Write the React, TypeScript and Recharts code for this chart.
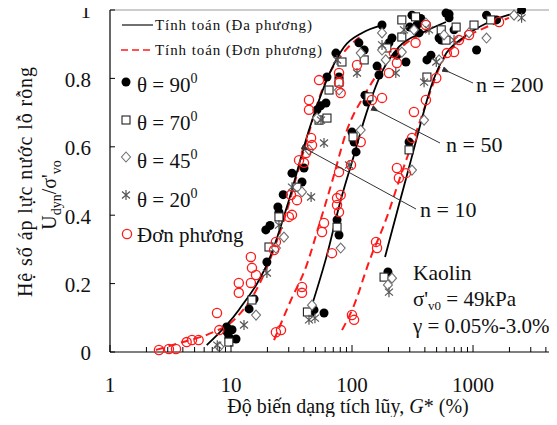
import React from 'react'
import { ComposedChart, XAxis, YAxis, Scatter, Line, ReferenceLine } from 'recharts'

// measured points, x = G* (%), y = Udyn / σ'vo
const theta90 = [
  { x: 9.2, y: 0.073 }, { x: 9.3, y: 0.058 }, { x: 9.6, y: 0.044 }, { x: 11.0, y: 0.038 }, { x: 10.2, y: 0.065 },
  { x: 14.1, y: 0.126 }, { x: 15.5, y: 0.155 }, { x: 19.8, y: 0.263 }, { x: 19.4, y: 0.357 }, { x: 21.0, y: 0.37 },
  { x: 24.4, y: 0.424 }, { x: 24.9, y: 0.409 }, { x: 27.0, y: 0.46 }, { x: 31.9, y: 0.523 }, { x: 38.6, y: 0.497 },
  { x: 40.1, y: 0.538 }, { x: 51.4, y: 0.708 }, { x: 55.0, y: 0.72 }, { x: 60.9, y: 0.728 }, { x: 62.1, y: 0.804 },
  { x: 73.6, y: 0.874 }, { x: 78.1, y: 0.804 }, { x: 114, y: 0.904 }, { x: 126, y: 0.883 }, { x: 177, y: 0.956 },
  { x: 45.9, y: 0.117 }, { x: 48.5, y: 0.123 }, { x: 58.7, y: 0.114 }, { x: 75.2, y: 0.386 }, { x: 78.1, y: 0.342 },
  { x: 99.9, y: 0.643 }, { x: 104, y: 0.614 }, { x: 108, y: 0.585 }, { x: 128, y: 0.751 }, { x: 133, y: 0.731 },
  { x: 167, y: 0.81 }, { x: 161, y: 0.836 }, { x: 202, y: 0.904 }, { x: 214, y: 0.918 }, { x: 235, y: 0.868 },
  { x: 279, y: 0.848 }, { x: 300, y: 0.95 }, { x: 313, y: 0.985 }, { x: 344, y: 0.956 }, { x: 358, y: 0.933 },
  { x: 370, y: 0.975 }, { x: 524, y: 0.918 }, { x: 634, y: 0.988 }, { x: 697, y: 0.942 },
  { x: 198, y: 0.234 }, { x: 296, y: 0.614 }, { x: 416, y: 0.854 }, { x: 449, y: 0.868 }, { x: 546, y: 0.912 },
  { x: 598, y: 0.991 }, { x: 634, y: 0.977 }, { x: 1070, y: 0.883 }, { x: 1293, y: 0.985 }, { x: 1563, y: 0.971 },
  { x: 2520, y: 1.0 },
]

const theta70 = [
  { x: 9.6, y: 0.029 }, { x: 14.9, y: 0.152 }, { x: 20.6, y: 0.307 }, { x: 24.9, y: 0.395 }, { x: 35.1, y: 0.482 },
  { x: 53.4, y: 0.678 }, { x: 62.1, y: 0.684 }, { x: 64.6, y: 0.766 }, { x: 78.1, y: 0.789 }, { x: 82.6, y: 0.848 },
  { x: 126, y: 0.854 },
  { x: 42.8, y: 0.117 }, { x: 75.2, y: 0.365 }, { x: 102, y: 0.629 }, { x: 138, y: 0.746 }, { x: 194, y: 0.889 },
  { x: 258, y: 0.921 }, { x: 258, y: 0.971 }, { x: 335, y: 0.98 }, { x: 546, y: 0.942 },
  { x: 184, y: 0.219 }, { x: 296, y: 0.591 }, { x: 416, y: 0.804 }, { x: 598, y: 0.912 }, { x: 725, y: 0.95 },
  { x: 1019, y: 0.956 }, { x: 1400, y: 0.971 },
]

const theta45 = [
  { x: 8.0, y: 0.015 }, { x: 16.1, y: 0.108 }, { x: 23.5, y: 0.304 }, { x: 27.4, y: 0.336 }, { x: 38.6, y: 0.468 },
  { x: 44.1, y: 0.591 }, { x: 51.4, y: 0.684 }, { x: 78.1, y: 0.766 }, { x: 118, y: 0.874 }, { x: 177, y: 0.933 },
  { x: 46.7, y: 0.137 }, { x: 80.6, y: 0.304 }, { x: 118, y: 0.649 }, { x: 177, y: 0.883 }, { x: 190, y: 0.854 },
  { x: 258, y: 0.877 }, { x: 325, y: 0.942 }, { x: 408, y: 0.962 }, { x: 576, y: 0.927 },
  { x: 198, y: 0.196 }, { x: 214, y: 0.216 }, { x: 313, y: 0.532 }, { x: 394, y: 0.678 }, { x: 524, y: 0.854 },
  { x: 927, y: 0.933 }, { x: 1293, y: 0.918 }, { x: 2183, y: 0.985 },
]

const theta20 = [
  { x: 7.7, y: 0.02 }, { x: 12.8, y: 0.079 }, { x: 19.8, y: 0.231 }, { x: 24.9, y: 0.371 }, { x: 31.9, y: 0.482 },
  { x: 45.9, y: 0.453 }, { x: 58.7, y: 0.611 }, { x: 55.4, y: 0.678 }, { x: 75.2, y: 0.854 }, { x: 110, y: 0.816 },
  { x: 44.1, y: 0.094 }, { x: 49.4, y: 0.099 }, { x: 94.5, y: 0.547 }, { x: 177, y: 0.898 }, { x: 230, y: 0.816 },
  { x: 269, y: 0.942 }, { x: 433, y: 0.942 },
  { x: 202, y: 0.175 }, { x: 394, y: 0.789 }, { x: 497, y: 0.848 }, { x: 697, y: 0.912 }, { x: 2520, y: 0.977 },
]

// single direction (đơn phương) tests
const uniaxial = [
  { x: 2.54, y: 0.006 }, { x: 3.07, y: 0.009 }, { x: 3.51, y: 0.009 }, { x: 4.3, y: 0.029 }, { x: 4.76, y: 0.035 },
  { x: 5.4, y: 0.035 }, { x: 7.66, y: 0.114 }, { x: 8.0, y: 0.064 }, { x: 11.6, y: 0.202 }, { x: 11.6, y: 0.173 },
  { x: 14.6, y: 0.278 }, { x: 14.9, y: 0.246 }, { x: 16.1, y: 0.225 }, { x: 14.6, y: 0.202 }, { x: 22.7, y: 0.298 },
  { x: 23.5, y: 0.322 }, { x: 30.1, y: 0.395 }, { x: 31.3, y: 0.459 }, { x: 31.9, y: 0.401 }, { x: 35.1, y: 0.444 },
  { x: 36.5, y: 0.561 }, { x: 40.1, y: 0.553 }, { x: 41.7, y: 0.582 }, { x: 45.9, y: 0.626 }, { x: 46.7, y: 0.605 },
  { x: 44.1, y: 0.737 }, { x: 44.1, y: 0.708 }, { x: 53.4, y: 0.795 }, { x: 78.1, y: 0.816 }, { x: 78.1, y: 0.787 },
  { x: 80.6, y: 0.757 }, { x: 110, y: 0.839 },
  { x: 23.5, y: 0.058 }, { x: 25.9, y: 0.064 }, { x: 38.6, y: 0.19 }, { x: 38.6, y: 0.173 }, { x: 56.5, y: 0.351 },
  { x: 58.7, y: 0.377 }, { x: 68.3, y: 0.289 }, { x: 75.2, y: 0.45 }, { x: 75.2, y: 0.43 }, { x: 78.1, y: 0.409 },
  { x: 78.1, y: 0.526 }, { x: 80.6, y: 0.459 }, { x: 98.1, y: 0.547 }, { x: 118, y: 0.614 }, { x: 146, y: 0.737 },
  { x: 177, y: 0.743 }, { x: 202, y: 0.816 }, { x: 222, y: 0.874 }, { x: 235, y: 0.845 }, { x: 335, y: 0.904 },
  { x: 408, y: 0.956 },
  { x: 99.9, y: 0.108 }, { x: 104, y: 0.094 }, { x: 158, y: 0.322 }, { x: 161, y: 0.304 }, { x: 235, y: 0.538 },
  { x: 244, y: 0.509 }, { x: 279, y: 0.523 }, { x: 313, y: 0.626 }, { x: 325, y: 0.702 }, { x: 408, y: 0.737 },
  { x: 497, y: 0.801 }, { x: 608, y: 0.874 }, { x: 697, y: 0.877 }, { x: 766, y: 0.912 }, { x: 927, y: 0.927 },
  { x: 1641, y: 0.965 },
]

// calculated curves, multi-direction (solid) and single direction (dashed)
const calcMulti10 = [
  { x: 6.3, y: 0.02 }, { x: 11.6, y: 0.123 }, { x: 21.4, y: 0.284 }, { x: 30.1, y: 0.444 }, { x: 44.1, y: 0.649 },
  { x: 68.3, y: 0.83 }, { x: 85.9, y: 0.892 }, { x: 121, y: 0.933 }, { x: 177, y: 0.956 },
]
const calcMulti50 = [
  { x: 46.7, y: 0.137 }, { x: 62.1, y: 0.284 }, { x: 80.6, y: 0.444 }, { x: 104, y: 0.576 }, { x: 126, y: 0.678 },
  { x: 177, y: 0.819 }, { x: 244, y: 0.892 }, { x: 394, y: 0.936 }, { x: 598, y: 0.965 },
]
const calcMulti200 = [
  { x: 187.5, y: 0.278 }, { x: 244, y: 0.43 }, { x: 307, y: 0.561 }, { x: 372, y: 0.673 }, { x: 449, y: 0.775 },
  { x: 576, y: 0.863 }, { x: 843, y: 0.921 }, { x: 1356, y: 0.965 }, { x: 2400, y: 0.994 },
]
const calcUni10 = [
  { x: 2.4, y: 0.006 }, { x: 3.72, y: 0.026 }, { x: 6.58, y: 0.053 }, { x: 10.6, y: 0.094 }, { x: 17.0, y: 0.196 },
  { x: 27.4, y: 0.386 }, { x: 40.1, y: 0.591 }, { x: 58.7, y: 0.781 }, { x: 85.9, y: 0.877 }, { x: 118.7, y: 0.924 },
]
const calcUni50 = [
  { x: 22.7, y: 0.035 }, { x: 31.3, y: 0.152 }, { x: 41.7, y: 0.249 }, { x: 53.4, y: 0.371 }, { x: 68.3, y: 0.497 },
  { x: 90.9, y: 0.649 }, { x: 126, y: 0.75 }, { x: 184, y: 0.839 }, { x: 269, y: 0.898 }, { x: 433, y: 0.94 },
]
const calcUni200 = [
  { x: 82.7, y: 0.064 }, { x: 104, y: 0.137 }, { x: 138, y: 0.263 }, { x: 194.5, y: 0.395 }, { x: 254, y: 0.518 },
  { x: 344, y: 0.649 }, { x: 433, y: 0.751 }, { x: 554, y: 0.848 }, { x: 766, y: 0.906 }, { x: 1233, y: 0.947 },
  { x: 1985, y: 0.977 },
]

const xTicks = [
  1, 2, 3, 4, 5, 6, 7, 8, 9, 10, 20, 30, 40, 50, 60, 70, 80, 90,
  100, 200, 300, 400, 500, 600, 700, 800, 900, 1000, 2000, 3000, 4000,
]
const yTicks = [0, 0.2, 0.4, 0.6, 0.8, 1]

const W = 549
const H = 409
const PLOT_LEFT = 102
const PLOT_BOTTOM = 344
const SERIF = "'Liberation Serif', 'Times New Roman', Times, serif"
const RED = '#ff1a1a'

const isDecade = (v: number) => Math.abs(Math.log10(v) - Math.round(Math.log10(v))) < 1e-9

const XTick = (props: any) => {
  const { x, payload } = props
  const major = isDecade(payload.value)
  return (
    <g>
      <line x1={x} x2={x} y1={PLOT_BOTTOM} y2={PLOT_BOTTOM - (major ? 7 : 5)} stroke="#000" strokeWidth={1} />
      {major && (
        <text x={x} y={384} textAnchor="middle" style={{ fontFamily: SERIF }} fontSize={21} fill="#111">
          {payload.value}
        </text>
      )}
    </g>
  )
}

const YTick = (props: any) => {
  const { y, payload } = props
  return (
    <g>
      <line x1={PLOT_LEFT} x2={PLOT_LEFT + 5} y1={y} y2={y} stroke="#000" strokeWidth={1} />
      <text x={83} y={y + 1} dy="0.35em" textAnchor="end" style={{ fontFamily: SERIF }} fontSize={21} fill="#111">
        {payload.value}
      </text>
    </g>
  )
}

const filledDot = (p: any) => <circle cx={p.cx} cy={p.cy} r={4.5} fill="#000" />
const openSquare = (p: any) => (
  <rect x={p.cx - 4} y={p.cy - 4} width={8} height={8} fill="#fff" stroke="#222" strokeWidth={1.1} />
)
const openDiamond = (p: any) => (
  <path
    d={`M${p.cx},${p.cy - 5} L${p.cx + 4.5},${p.cy} L${p.cx},${p.cy + 5} L${p.cx - 4.5},${p.cy} Z`}
    fill="#fff"
    stroke="#707070"
    strokeWidth={1.1}
  />
)
const star = (p: any) => (
  <path
    d={`M${p.cx},${p.cy - 5} L${p.cx},${p.cy + 5} M${p.cx - 4},${p.cy - 3.5} L${p.cx + 4},${p.cy + 3.5} M${p.cx - 4},${p.cy + 3.5} L${p.cx + 4},${p.cy - 3.5}`}
    stroke="#555"
    strokeWidth={1.2}
    fill="none"
  />
)
const redCircle = (p: any) => <circle cx={p.cx} cy={p.cy} r={4.6} fill="none" stroke={RED} strokeWidth={1.3} />

function LegendAndNotes() {
  return (
    <svg
      width={W}
      height={H}
      style={{ position: 'absolute', left: 0, top: 0, pointerEvents: 'none', overflow: 'visible', fontFamily: SERIF }}
      fill="#111"
    >
      <defs>
        <marker id="arrow" markerWidth="8" markerHeight="6" refX="1" refY="3" orient="auto-start-reverse">
          <path d="M8,0 L0,3 L8,6 Z" fill="#333" />
        </marker>
      </defs>

      {/* legend */}
      <line x1={114} x2={145} y1={17} y2={17} stroke="#222" strokeWidth={1.3} />
      <text x={147} y={22} fontSize={15} textLength={157} lengthAdjust="spacing">Tính toán (Đa phương)</text>
      <line x1={113} x2={146} y1={42} y2={42} stroke={RED} strokeWidth={1.6} strokeDasharray="7 4" />
      <text x={147} y={47} fontSize={15} textLength={167} lengthAdjust="spacing">Tính toán (Đơn phương)</text>

      <circle cx={118} cy={74} r={4.5} fill="#000" />
      <text x={129} y={84} fontSize={21}>θ = 90<tspan fontSize={14} dy={-9}>0</tspan></text>
      <rect x={114} y={108} width={8} height={8} fill="#fff" stroke="#222" strokeWidth={1.1} />
      <text x={129} y={122} fontSize={21}>θ = 70<tspan fontSize={14} dy={-9}>0</tspan></text>
      <path d="M118,144 L122.5,149 L118,154 L113.5,149 Z" fill="#fff" stroke="#707070" strokeWidth={1.1} />
      <text x={129} y={160} fontSize={21}>θ = 45<tspan fontSize={14} dy={-9}>0</tspan></text>
      <path d="M118,182 L118,192 M114,183.5 L122,190.5 M114,190.5 L122,183.5" stroke="#555" strokeWidth={1.2} />
      <text x={129} y={199} fontSize={21}>θ = 20<tspan fontSize={14} dy={-9}>0</tspan></text>
      <circle cx={119} cy={226} r={4.6} fill="none" stroke={RED} strokeWidth={1.3} />
      <text x={129} y={234} fontSize={21}>Đơn phương</text>

      {/* cycle number pointers */}
      <line x1={465} y1={75} x2={441} y2={64} stroke="#333" strokeWidth={1} markerEnd="url(#arrow)" />
      <text x={468} y={84} fontSize={22}>n = 200</text>
      <line x1={432} y1={135} x2={370} y2={103} stroke="#333" strokeWidth={1} markerEnd="url(#arrow)" />
      <text x={438} y={144} fontSize={22}>n = 50</text>
      <line x1={408} y1={201} x2={300} y2={142} stroke="#333" strokeWidth={1} markerEnd="url(#arrow)" />
      <text x={412} y={209} fontSize={22}>n = 10</text>

      {/* test conditions */}
      <text x={405} y={272} fontSize={21.5}>Kaolin</text>
      <text x={405} y={298} fontSize={21}>
        σ'<tspan fontSize={13} dy={4}>v0</tspan><tspan dy={-4}> = 49kPa</tspan>
      </text>
      <text x={405} y={325} fontSize={21}>γ = 0.05%-3.0%</text>

      {/* axis titles */}
      <text transform="translate(24,174) rotate(-90)" textAnchor="middle" fontSize={20} textLength={230} lengthAdjust="spacing">
        Hệ số áp lực nước lỗ rỗng
      </text>
      <text transform="translate(48,187) rotate(-90)" textAnchor="middle" fontSize={20}>
        U<tspan fontSize={14} dy={5}>dyn</tspan><tspan dy={-5}>/σ'</tspan><tspan fontSize={14} dy={5}>vo</tspan>
      </text>
      <text x={340} y={405} textAnchor="middle" fontSize={20}>
        Độ biến dạng tích lũy, <tspan fontStyle="italic">G</tspan>* (%)
      </text>
    </svg>
  )
}

export default function App() {
  return (
    <div style={{ position: 'relative', width: W, height: H }}>
      <style>{'.recharts-surface { overflow: visible; }'}</style>
      <ComposedChart width={W} height={H} margin={{ top: 2, right: 0, left: 42, bottom: 35 }}>
        <XAxis
          dataKey="x"
          type="number"
          scale="log"
          domain={[1, 4943]}
          ticks={xTicks}
          interval={0}
          tick={<XTick />}
          tickLine={false}
          height={30}
          axisLine={{ stroke: '#000', strokeWidth: 1.2 }}
        />
        <YAxis
          dataKey="y"
          type="number"
          domain={[0, 1]}
          ticks={yTicks}
          interval={0}
          tick={<YTick />}
          tickLine={false}
          width={60}
          axisLine={{ stroke: '#000', strokeWidth: 1.2 }}
        />
        <ReferenceLine y={1} stroke="#999" strokeWidth={1.2} />

        <Scatter data={theta90} dataKey="y" shape={filledDot} isAnimationActive={false} />
        <Scatter data={theta70} dataKey="y" shape={openSquare} isAnimationActive={false} />
        <Scatter data={theta45} dataKey="y" shape={openDiamond} isAnimationActive={false} />
        <Scatter data={theta20} dataKey="y" shape={star} isAnimationActive={false} />
        <Scatter data={uniaxial} dataKey="y" shape={redCircle} isAnimationActive={false} />

        <Line data={calcUni10} dataKey="y" type="monotone" stroke={RED} strokeWidth={2} strokeDasharray="8 5" dot={false} isAnimationActive={false} />
        <Line data={calcUni50} dataKey="y" type="monotone" stroke={RED} strokeWidth={2} strokeDasharray="8 5" dot={false} isAnimationActive={false} />
        <Line data={calcUni200} dataKey="y" type="monotone" stroke={RED} strokeWidth={2} strokeDasharray="8 5" dot={false} isAnimationActive={false} />
        <Line data={calcMulti10} dataKey="y" type="monotone" stroke="#000" strokeWidth={1.8} dot={false} isAnimationActive={false} />
        <Line data={calcMulti50} dataKey="y" type="monotone" stroke="#000" strokeWidth={1.8} dot={false} isAnimationActive={false} />
        <Line data={calcMulti200} dataKey="y" type="monotone" stroke="#000" strokeWidth={1.8} dot={false} isAnimationActive={false} />
      </ComposedChart>
      <LegendAndNotes />
    </div>
  )
}
